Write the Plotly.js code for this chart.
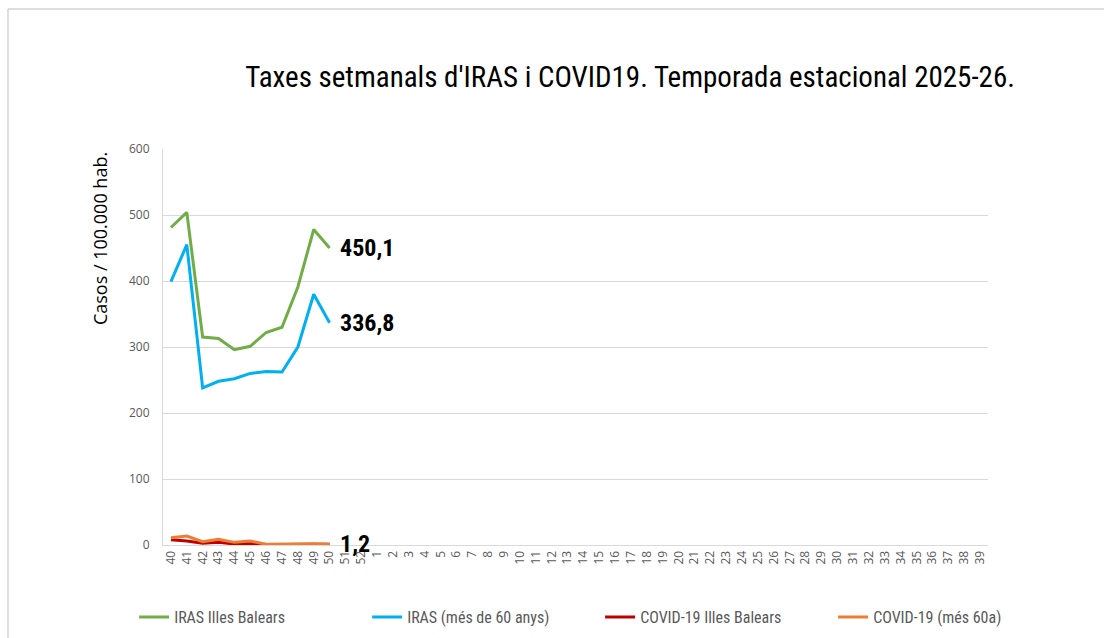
<!DOCTYPE html>
<html>
<head>
<meta charset="utf-8">
<script src="https://cdn.plot.ly/plotly-3.0.1.min.js"></script>
<style>html,body{margin:0;padding:0;background:#fff;}#chart{width:1104px;height:638px;}</style>
</head>
<body>
<div id="chart"></div>
<script>
var weeks = ["40","41","42","43","44","45","46","47","48","49","50","51","52",
  "1","2","3","4","5","6","7","8","9","10","11","12","13","14","15","16","17","18","19","20",
  "21","22","23","24","25","26","27","28","29","30","31","32","33","34","35","36","37","38","39"];
var irasBalears = [481, 504, 315, 313, 296, 301, 322, 330, 391, 478, 450.1];
var irasMes60   = [399, 455, 238, 248, 252, 260, 263, 262, 300, 380, 336.8];
var covidBalears = [8, 6, 2.5, 4, 1.5, 2.5, 0.5, 1, 1, 1, 1.2];
var covidMes60   = [11, 13.5, 5, 8.5, 4, 6, 1, 1.5, 2, 2, 1];
var seriesNames = ["IRAS Illes Balears", "IRAS (més de 60 anys)", "COVID-19 Illes Balears", "COVID-19 (més 60a)"];
var seriesColors = ["#70AD47", "#00B0F0", "#C00000", "#ED7D31"];
var labelled = [0, 1, 2];

var COND = 'Roboto Condensed, Open Sans, sans-serif';
var allSeries = [irasBalears, irasMes60, covidBalears, covidMes60];
var traces = allSeries.map(function(vals, i){
  return {
    type: 'scatter', mode: 'lines',
    x: weeks.slice(0, vals.length), y: vals,
    name: seriesNames[i],
    line: {color: seriesColors[i], width: 3},
    hoverinfo: 'skip'
  };
});

function fmt(v){ return v.toFixed(1).replace('.', ','); }
var annotations = labelled.map(function(i){
  var vals = allSeries[i];
  return {
    xref: 'x', yref: 'y', x: vals.length - 1, y: vals[vals.length - 1],
    text: '<b>' + fmt(vals[vals.length - 1]) + '</b>', showarrow: false, xanchor: 'left', yanchor: 'middle',
    xshift: 8, font: {family: COND, size: 24, color: '#000'}
  };
});
annotations.push({
  xref: 'paper', yref: 'paper', x: -0.0764, y: 0.775, text: 'Casos / 100.000 hab.',
  textangle: -90, showarrow: false, xanchor: 'center', yanchor: 'middle',
  font: {family: 'Open Sans, sans-serif', size: 18, color: '#000'}
});

var layout = {
  width: 1104, height: 638,
  margin: {l: 163, r: 116, t: 149, b: 93, autoexpand: false},
  paper_bgcolor: '#fff', plot_bgcolor: '#fff',
  title: {text: "Taxes setmanals d'IRAS i COVID19. Temporada estacional 2025-26.",
    x: 0.5707, xanchor: 'center', y: 0.879, yanchor: 'middle',
    font: {family: COND, size: 29, color: '#000'}},
  xaxis: {type: 'category', categoryorder: 'array', categoryarray: weeks,
    range: [-0.5, weeks.length - 0.5], tickmode: 'array', tickvals: weeks, ticktext: weeks,
    tickangle: -90, showgrid: false, showline: true, linecolor: '#d9d9d9', linewidth: 1,
    ticks: '', tickfont: {family: 'Open Sans, sans-serif', size: 12, color: '#595959'}, fixedrange: true},
  yaxis: {range: [0, 600], dtick: 100, showgrid: true, gridcolor: '#d9d9d9', gridwidth: 1,
    showline: true, linecolor: '#d9d9d9', zeroline: false, ticks: '', ticklabelstandoff: 10,
    tickfont: {family: 'Open Sans, sans-serif', size: 12, color: '#595959'}, fixedrange: true},
  showlegend: true,
  legend: {orientation: 'h', x: -0.035, xanchor: 'left', y: -0.139, yanchor: 'top',
    entrywidth: 188, entrywidthmode: 'pixels', itemwidth: 30, bgcolor: 'rgba(0,0,0,0)',
    font: {family: COND, size: 16, color: '#595959'}},
  annotations: annotations,
  shapes: [{type: 'rect', xref: 'paper', yref: 'paper', x0: -0.18788, x1: 1.1479, y0: -0.2525, y1: 1.35354,
    line: {color: '#bfbfbf', width: 1}, fillcolor: 'rgba(0,0,0,0)', layer: 'below'}]
};

Plotly.newPlot('chart', traces, layout, {displayModeBar: false, staticPlot: true});
</script>
</body>
</html>
